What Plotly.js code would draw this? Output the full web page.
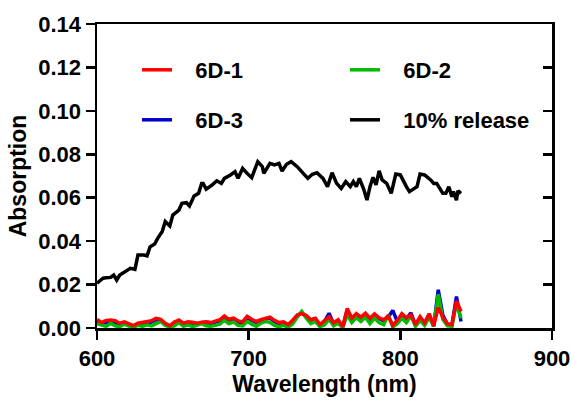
<!DOCTYPE html>
<html>
<head>
<meta charset="utf-8">
<script src="https://cdn.plot.ly/plotly-3.0.1.min.js"></script>
<style>html,body{margin:0;padding:0;background:#fff;}#chart{width:571px;height:403px;}</style>
</head>
<body>
<div id="chart"></div>
<script>
// Black curve: 10% release
const wlRelease = [600,601,604,606,609,611,613,615,617,620,622,625,627,631,633,635,638,640,643,645,648,650,654,656,659,661,664,667,669,670,672,676,679,682,684,688,691,693,696,699,702,706,709,710,714,717,720,722,725,728,732,736,739,742,745,749,752,755,758,761,764,767,769,771,773,776,778,780,782,784,786,788,791,794,797,800,802,804,806,809,811,813,816,820,822,824,826,828,830,832,834,835,837,838,840];
const absRelease = [0.0206,0.0213,0.0229,0.0231,0.0233,0.0244,0.0221,0.0244,0.0252,0.0267,0.0275,0.0270,0.0336,0.0336,0.0332,0.0374,0.0387,0.0413,0.0444,0.0490,0.0470,0.0520,0.0543,0.0574,0.0577,0.0562,0.0608,0.0620,0.0666,0.0666,0.0639,0.0659,0.0678,0.0666,0.0689,0.0705,0.0720,0.0689,0.0735,0.0712,0.0692,0.0766,0.0743,0.0712,0.0758,0.0751,0.0758,0.0723,0.0754,0.0766,0.0743,0.0712,0.0689,0.0708,0.0715,0.0689,0.0651,0.0715,0.0666,0.0643,0.0674,0.0651,0.0674,0.0651,0.0689,0.0636,0.0589,0.0651,0.0694,0.0659,0.0724,0.0682,0.0666,0.0620,0.0709,0.0705,0.0674,0.0651,0.0628,0.0643,0.0651,0.0709,0.0705,0.0682,0.0666,0.0666,0.0643,0.0620,0.0620,0.0651,0.0605,0.0628,0.0589,0.0632,0.0620];

// Coloured samples
const wlSample = [600,603,606,609,612,615,618,621,624,627,630,633,636,639,642,645,648,651,654,657,660,663,666,669,672,675,678,681,684,687,690,693,696,699,702,705,708,711,714,717,720,723,726,729,732,735,738,741,744,747,750,753,756,759,762,765,768,771,774,777,780,783,786,789,792,795,798,801,804,807,810,813,816,819,822,825,828,831,834,837,840];
const abs6D1 = [0.0040,0.0025,0.0035,0.0037,0.0034,0.0022,0.0028,0.0018,0.0011,0.0022,0.0025,0.0028,0.0034,0.0045,0.0040,0.0022,0.0010,0.0028,0.0037,0.0022,0.0029,0.0026,0.0022,0.0027,0.0029,0.0025,0.0030,0.0038,0.0055,0.0040,0.0045,0.0033,0.0028,0.0054,0.0040,0.0030,0.0038,0.0045,0.0050,0.0035,0.0025,0.0028,0.0016,0.0036,0.0060,0.0066,0.0058,0.0038,0.0045,0.0016,0.0035,0.0052,0.0024,0.0038,0.0005,0.0090,0.0045,0.0066,0.0050,0.0068,0.0045,0.0065,0.0047,0.0038,0.0054,0.0012,0.0035,0.0066,0.0047,0.0060,0.0016,0.0052,0.0024,0.0066,0.0010,0.0095,0.0050,0.0020,0.0015,0.0125,0.0076];
const abs6D2 = [0.0020,0.0012,0.0008,0.0022,0.0010,0.0006,0.0018,0.0009,0.0004,0.0012,0.0008,0.0015,0.0010,0.0020,0.0030,0.0012,0.0005,0.0010,0.0025,0.0008,0.0015,0.0006,0.0012,0.0020,0.0010,0.0008,0.0012,0.0018,0.0035,0.0020,0.0028,0.0012,0.0010,0.0030,0.0018,0.0008,0.0022,0.0030,0.0026,0.0012,0.0006,0.0012,0.0004,0.0018,0.0050,0.0076,0.0045,0.0020,0.0030,0.0006,0.0015,0.0040,0.0010,0.0022,0.0002,0.0060,0.0025,0.0048,0.0030,0.0050,0.0020,0.0045,0.0025,0.0015,0.0060,0.0005,0.0020,0.0045,0.0025,0.0055,0.0008,0.0035,0.0012,0.0050,0.0008,0.0155,0.0040,0.0010,0.0008,0.0115,0.0045];
const abs6D3 = [0.0030,0.0018,0.0025,0.0030,0.0026,0.0015,0.0022,0.0014,0.0008,0.0018,0.0020,0.0022,0.0028,0.0038,0.0035,0.0018,0.0008,0.0022,0.0032,0.0018,0.0024,0.0020,0.0018,0.0024,0.0025,0.0020,0.0026,0.0034,0.0050,0.0036,0.0040,0.0028,0.0024,0.0048,0.0036,0.0026,0.0034,0.0040,0.0046,0.0030,0.0020,0.0024,0.0012,0.0030,0.0056,0.0070,0.0052,0.0034,0.0040,0.0012,0.0030,0.0068,0.0020,0.0034,0.0004,0.0082,0.0040,0.0060,0.0046,0.0062,0.0040,0.0060,0.0044,0.0034,0.0050,0.0081,0.0030,0.0060,0.0042,0.0070,0.0012,0.0048,0.0020,0.0060,0.0008,0.0176,0.0060,0.0018,0.0012,0.0145,0.0030];

const FONT = 'Liberation Sans, Arial, sans-serif';
const nb = '\u00a0\u00a0\u00a0';

const traces = [
  {x: wlSample, y: abs6D3, name: nb + '6D-3', type: 'scatter', mode: 'lines',
   line: {color: '#0000cc', width: 3.5}, legend: 'legend2', legendrank: 1},
  {x: wlSample, y: abs6D2, name: nb + '6D-2', type: 'scatter', mode: 'lines',
   line: {color: '#00bb00', width: 3.5}, legend: 'legend', legendrank: 2},
  {x: wlSample, y: abs6D1, name: nb + '6D-1', type: 'scatter', mode: 'lines',
   line: {color: '#ff0000', width: 3.5}, legend: 'legend', legendrank: 1},
  {x: wlRelease, y: absRelease, name: nb + '10% release', type: 'scatter', mode: 'lines',
   line: {color: '#000000', width: 3.5}, yaxis: 'y2', legend: 'legend2', legendrank: 2}
];

const legendCommon = {
  orientation: 'h', xref: 'paper', yref: 'paper', xanchor: 'left', yanchor: 'middle',
  x: (137 - 97) / 455, bgcolor: 'rgba(0,0,0,0)', borderwidth: 0, entrywidth: 163, entrywidthmode: 'pixels',
  font: {family: FONT, size: 22, color: '#000', weight: 'bold'}, itemwidth: 30
};

const layout = {
  width: 571, height: 403,
  margin: {l: 97, r: 19, t: 24, b: 75},
  paper_bgcolor: '#fff', plot_bgcolor: '#fff',
  showlegend: true,
  font: {family: FONT, size: 22, color: '#000', weight: 'bold'},
  legend: Object.assign({}, legendCommon, {y: (328 - 70) / 304}),
  legend2: Object.assign({}, legendCommon, {y: (328 - 120) / 304}),
  xaxis: {
    range: [600, 900], tickvals: [600, 700, 800, 900],
    ticks: 'outside', ticklen: 9, tickwidth: 2.5, tickcolor: '#000',
    showline: true, linewidth: 2.5, linecolor: '#000', mirror: true,
    showgrid: false, zeroline: false,
    tickfont: {family: FONT, size: 22, color: '#000', weight: 'bold'},
    title: {text: 'Wavelength (nm)', standoff: 6, font: {family: FONT, size: 23, color: '#000', weight: 'bold'}}
  },
  yaxis: {
    range: [0, 0.14], dtick: 0.02, tick0: 0, tickformat: '.2f',
    ticks: 'outside', ticklen: 9, tickwidth: 2.5, tickcolor: '#000',
    showline: true, linewidth: 2.5, linecolor: '#000', mirror: true,
    showgrid: false, zeroline: false,
    tickfont: {family: FONT, size: 22, color: '#000', weight: 'bold'},
    title: {text: 'Absorption', standoff: 5, font: {family: FONT, size: 23, color: '#000', weight: 'bold'}}
  },
  yaxis2: {
    overlaying: 'y', side: 'right', range: [0, 0.14], dtick: 0.02, tick0: 0,
    ticks: 'inside', ticklen: 9, tickwidth: 2.5, tickcolor: '#000',
    showticklabels: false, showline: false, showgrid: false, zeroline: false
  }
};

Plotly.newPlot('chart', traces, layout, {displayModeBar: false, staticPlot: true});
</script>
</body>
</html>
